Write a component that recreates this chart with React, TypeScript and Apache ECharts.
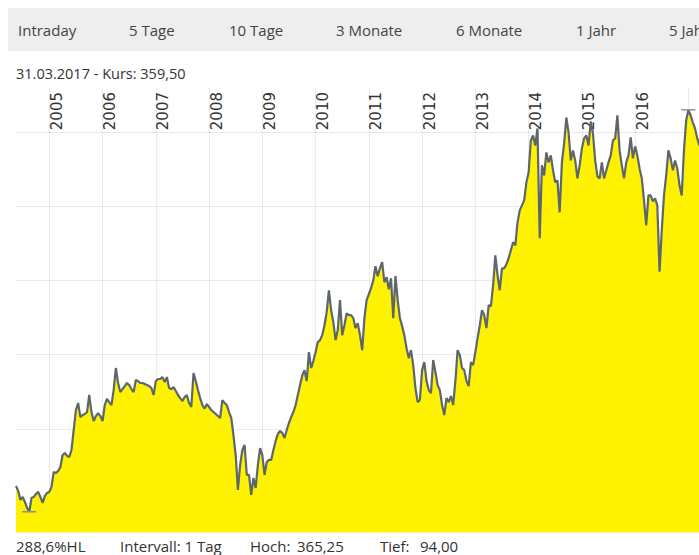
import React, { useEffect, useRef } from "react";
import * as echarts from "echarts";

// Tabs of the period selector
const tabLabels = ["Intraday", "5 Tage", "10 Tage", "3 Monate", "6 Monate", "1 Jahr", "5 Jahre"];
const tabX = [18, 129, 229, 336, 456, 576, 669];

const headline = "31.03.2017 - Kurs: 359,50";
const footer = ["288,6%HL", "Intervall: 1 Tag", "Hoch:", "365,25", "Tief:", "94,00"];
const footerX = [16, 120, 250, 297, 380, 420];

// half-monthly sampling dates (1st and 16th), from 16.05.2004 to 31.03.2017
const dates: string[] = [];
for (let k = 0; k < 309; k++) {
  const m = k % 2 === 0 ? k / 2 : (k + 1) / 2;
  const idx = 4 + m;
  const y = 2004 + Math.floor(idx / 12);
  const mo = (idx % 12) + 1;
  const d = k % 2 === 0 ? "16" : "01";
  dates.push(`${y}-${String(mo).padStart(2, "0")}-${d}`);
}
dates.push("2017-03-31");

// prices
const prices = [
  111.4, 108.1, 102.0, 104.0, 100.7, 96.6, 94.0, 103.4, 104.0, 106.0,
  107.4, 104.0, 100.0, 104.7, 106.7, 107.4, 110.8, 120.9, 120.2, 121.5,
  124.2, 132.3, 133.7, 131.7, 131.0, 135.7, 149.2, 162.7, 167.4, 157.9,
  159.3, 160.0, 161.3, 172.8, 161.3, 155.2, 158.6, 160.6, 158.6, 155.2,
  166.0, 170.1, 168.0, 166.0, 176.1, 191.0, 180.9, 174.8, 176.8, 178.8,
  180.9, 179.5, 176.8, 174.8, 182.9, 182.2, 180.9, 180.9, 180.2, 179.5,
  178.8, 177.5, 172.8, 182.2, 183.6, 183.6, 184.9, 181.5, 184.9, 177.5,
  176.8, 178.2, 175.5, 172.8, 170.7, 168.7, 171.4, 172.8, 167.4, 164.7,
  187.6, 182.2, 176.1, 170.7, 166.0, 163.6, 166.7, 164.7, 162.7, 161.3,
  160.0, 158.6, 157.3, 169.4, 167.4, 166.0, 161.3, 157.3, 145.8, 132.3,
  108.7, 125.6, 135.7, 139.1, 118.9, 118.9, 105.4, 116.8, 110.1, 125.6,
  137.0, 132.3, 118.9, 127.6, 129.0, 129.0, 135.7, 141.8, 146.5, 148.5,
  147.2, 143.8, 149.2, 153.9, 157.9, 161.3, 166.0, 172.8, 179.5, 186.2,
  189.6, 182.2, 201.7, 191.0, 195.7, 201.7, 208.5, 209.8, 213.2, 219.9,
  228.7, 243.5, 230.0, 222.0, 209.8, 216.6, 236.8, 213.2, 219.9, 228.0,
  226.7, 226.7, 224.7, 217.9, 221.3, 213.2, 203.1, 224.7, 236.8, 240.8,
  244.9, 250.3, 259.7, 253.0, 258.3, 262.4, 248.9, 252.3, 244.2, 251.6,
  224.7, 253.0, 236.8, 224.7, 219.3, 213.2, 204.4, 197.7, 203.1, 193.0,
  177.5, 168.0, 169.4, 189.6, 195.0, 182.2, 176.1, 174.1, 196.4, 188.3,
  179.5, 176.1, 166.0, 159.3, 170.7, 168.0, 172.1, 166.0, 182.2, 203.1,
  199.7, 191.0, 189.6, 182.2, 178.8, 195.0, 193.0, 201.7, 211.2, 219.9,
  230.0, 226.7, 217.9, 233.4, 232.7, 246.9, 267.1, 253.6, 243.5, 258.3,
  258.3, 261.0, 265.1, 270.5, 275.9, 273.8, 289.3, 297.4, 300.8, 304.2,
  316.3, 323.0, 344.6, 348.0, 341.2, 352.7, 278.6, 327.8, 321.0, 336.5,
  329.8, 334.5, 324.4, 316.3, 317.7, 296.1, 329.8, 342.6, 360.1, 350.0,
  331.1, 337.9, 331.1, 319.0, 327.8, 339.2, 346.0, 348.0, 341.2, 357.4,
  349.3, 331.1, 320.3, 319.0, 329.8, 319.0, 324.4, 329.8, 334.5, 344.6,
  346.0, 361.5, 337.9, 327.8, 319.0, 329.8, 334.5, 346.6, 332.5, 340.6,
  334.5, 325.7, 319.0, 304.2, 287.3, 307.5, 307.5, 303.5, 305.5, 300.8,
  256.0, 284.0, 307.5, 321.0, 337.9, 332.5, 324.4, 331.1, 325.7, 314.3,
  307.5, 337.9, 358.1, 365.25, 361.5, 356.7, 352.7, 346.0, 341.2, 359.5,
];

const uiFont = '"Open Sans", "DejaVu Sans", sans-serif';
const gridColor = "rgba(0,0,0,0.08)";

export default function App() {
  const ref = useRef<HTMLDivElement>(null);

  useEffect(() => {
    if (!ref.current) return;
    const chart = echarts.init(ref.current, undefined, { renderer: "svg" });

    const graphics: any[] = [
      {
        type: "rect",
        shape: { x: 8, y: 8, width: 712, height: 43 },
        style: { fill: "#eeeeee" },
        silent: true,
      },
    ];
    tabLabels.forEach((t, i) => {
      graphics.push({
        type: "text",
        x: tabX[i],
        y: 30,
        style: { text: t, fill: "#444", font: `15px ${uiFont}`, align: "left", verticalAlign: "middle" },
        silent: true,
      });
    });
    graphics.push({
      type: "text",
      x: 16,
      y: 73,
      style: { text: headline, fill: "#333", font: `14.5px ${uiFont}`, align: "left", verticalAlign: "middle" },
      silent: true,
    });
    footer.forEach((t, i) => {
      graphics.push({
        type: "text",
        x: footerX[i],
        y: 546,
        style: { text: t, fill: "#333", font: `15px ${uiFont}`, align: "left", verticalAlign: "middle" },
        silent: true,
      });
    });

    chart.setOption({
      animation: false,
      grid: { left: 16, right: 18.3, top: 88, bottom: 22.5, containLabel: false },
      xAxis: {
        type: "category",
        data: dates,
        boundaryGap: false,
        position: "top",
        z: 3,
        axisLine: { show: false },
        axisTick: { show: false },
        splitLine: {
          show: true,
          interval: (i: number, v: string) => v.endsWith("-01-01"),
          lineStyle: { color: gridColor, width: 1 },
        },
        axisLabel: {
          inside: true,
          rotate: -90,
          interval: (i: number, v: string) => v.endsWith("-01-01") && !v.startsWith("2017"),
          formatter: (v: string) => v.slice(0, 4),
          align: "right",
          verticalAlign: "top",
          margin: 4,
          color: "#333",
          fontSize: 15,
          fontFamily: "DejaVu Sans",
        },
      },
      yAxis: {
        type: "value",
        min: 80,
        max: 380,
        splitNumber: 5,
        z: 3,
        axisLine: { show: false },
        axisTick: { show: false },
        axisLabel: { show: false },
        splitLine: {
          show: true,
          showMinLine: false,
          showMaxLine: false,
          lineStyle: { color: gridColor, width: 1 },
        },
      },
      series: [
        {
          type: "line",
          data: prices,
          symbol: "none",
          showSymbol: false,
          lineStyle: { color: "#5c666d", width: 2.2 },
          areaStyle: { color: "#fff200", opacity: 1 },
          markPoint: {
            silent: true,
            symbol: "rect",
            symbolSize: [14, 1.5],
            label: { show: false },
            itemStyle: { color: "#8a9096" },
            data: [{ type: "max" }, { type: "min" }],
          },
        },
      ],
      graphic: graphics,
    });

    return () => chart.dispose();
  }, []);

  return (
    <div
      style={{
        position: "fixed",
        left: 0,
        top: 0,
        width: 699,
        height: 555,
        overflow: "hidden",
        background: "#fff",
      }}
    >
      <div ref={ref} style={{ width: 720, height: 555 }} />
    </div>
  );
}
